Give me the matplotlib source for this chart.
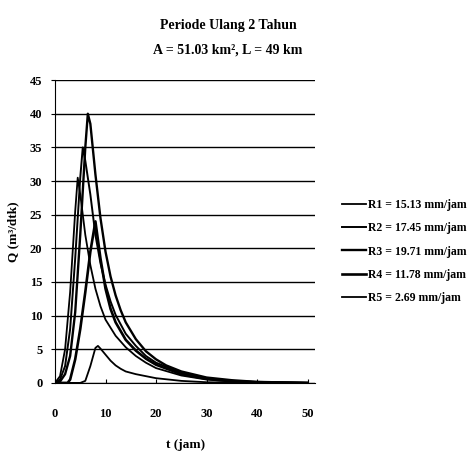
import numpy as np
import matplotlib
matplotlib.use('Agg')
import matplotlib.pyplot as plt

plt.rcParams['font.family'] = ['Liberation Serif', 'DejaVu Serif']
plt.rcParams['font.weight'] = 'bold'

# ----- hydrograph data (t in jam, Q in m3/dtk)
t_r1 = [0, 1, 2, 3, 4, 4.5, 5, 6, 7, 8, 9, 10, 12, 14, 16, 18, 20, 25, 30, 35, 40, 50]
q_r1 = [0, 1.0, 5.0, 13.5, 25.5, 30.5, 28, 22, 17.5, 14, 11.4, 9.4, 7.0, 5.3, 4.0, 3.0, 2.2, 1.1, 0.5, 0.2, 0.1, 0]

t_r2 = [0, 1, 2, 3, 4, 5, 5.5, 6, 7, 8, 9, 10, 11, 12, 14, 16, 18, 20, 25, 30, 35, 40, 50]
q_r2 = [0, 0.5, 2.5, 8.0, 18.5, 30.5, 35, 33, 28, 22, 17.8, 14.6, 12.1, 10.1, 7.3, 5.5, 4.0, 3.0, 1.5, 0.7, 0.3, 0.1, 0]

t_r3 = [0, 1, 2, 3, 4, 5, 6, 6.5, 7, 8, 9, 10, 11, 12, 13, 14, 16, 18, 20, 22, 25, 30, 35, 40, 50]
q_r3 = [0, 0.2, 1.3, 4.0, 10.5, 22, 35, 40, 38.5, 31, 24.5, 19.5, 15.8, 13.0, 10.8, 9.0, 6.5, 4.7, 3.5, 2.6, 1.7, 0.8, 0.4, 0.15, 0]

t_r4 = [0, 2.5, 3, 4, 5, 6, 7, 8, 9, 10, 11, 12, 14, 16, 18, 20, 25, 30, 35, 40, 50]
q_r4 = [0, 0, 0.5, 3.5, 8.0, 13.5, 19.5, 24, 18.5, 14, 11, 9.0, 6.4, 4.8, 3.6, 2.7, 1.3, 0.6, 0.25, 0.1, 0]

t_r5 = [0, 5, 6, 7, 8, 8.5, 9, 10, 11, 12, 13, 14, 16, 18, 20, 25, 30, 40, 50]
q_r5 = [0, 0, 0.3, 2.5, 5.2, 5.5, 5.1, 4.2, 3.3, 2.6, 2.1, 1.7, 1.3, 1.0, 0.7, 0.3, 0.1, 0, 0]

labels = ['R1 = 15.13 mm/jam', 'R2 = 17.45 mm/jam', 'R3 = 19.71 mm/jam',
          'R4 = 11.78 mm/jam', 'R5 = 2.69 mm/jam']
widths = [1.3, 1.4, 1.7, 1.9, 1.3]

fig = plt.figure(figsize=(4.74, 4.63), dpi=100)
ax = fig.add_axes([0.116, 0.173, 0.549, 0.654])

series = [(t_r1, q_r1), (t_r2, q_r2), (t_r3, q_r3), (t_r4, q_r4), (t_r5, q_r5)]
for (t, q), lab, lw in zip(series, labels, widths):
    ax.plot(t, q, color='black', lw=lw, label=lab)

ax.set_xlim(0, 51.5)
ax.set_ylim(0, 45)
ax.set_xticks(np.arange(0, 51, 10))
ax.set_yticks(np.arange(0, 46, 5))
ax.yaxis.grid(True, color='black', lw=1.0)
ax.set_axisbelow(True)
for s in ['top', 'right']:
    ax.spines[s].set_visible(False)
ax.tick_params(axis='x', direction='in', length=3, pad=18, labelsize=9)
ax.tick_params(axis='y', direction='out', length=3, pad=6, labelsize=9)

ax.set_xlabel('t (jam)', fontsize=9.5, fontweight='bold', labelpad=14)
ax.set_ylabel('Q (m³/dtk)', fontsize=9.5, fontweight='bold', labelpad=8)

fig.text(0.481, 0.946, 'Periode Ulang 2 Tahun', ha='center', va='center',
         fontsize=10, fontweight='bold')
fig.text(0.481, 0.893, 'A = 51.03 km², L = 49 km', ha='center', va='center',
         fontsize=10, fontweight='bold')

fig.legend(loc='upper left', bbox_to_anchor=(0.722, 0.57), frameon=False,
           fontsize=8.5, handlelength=2.0, handletextpad=0.15,
           labelspacing=0.95, borderpad=0, borderaxespad=0)

fig.savefig('out.png', dpi=100)
